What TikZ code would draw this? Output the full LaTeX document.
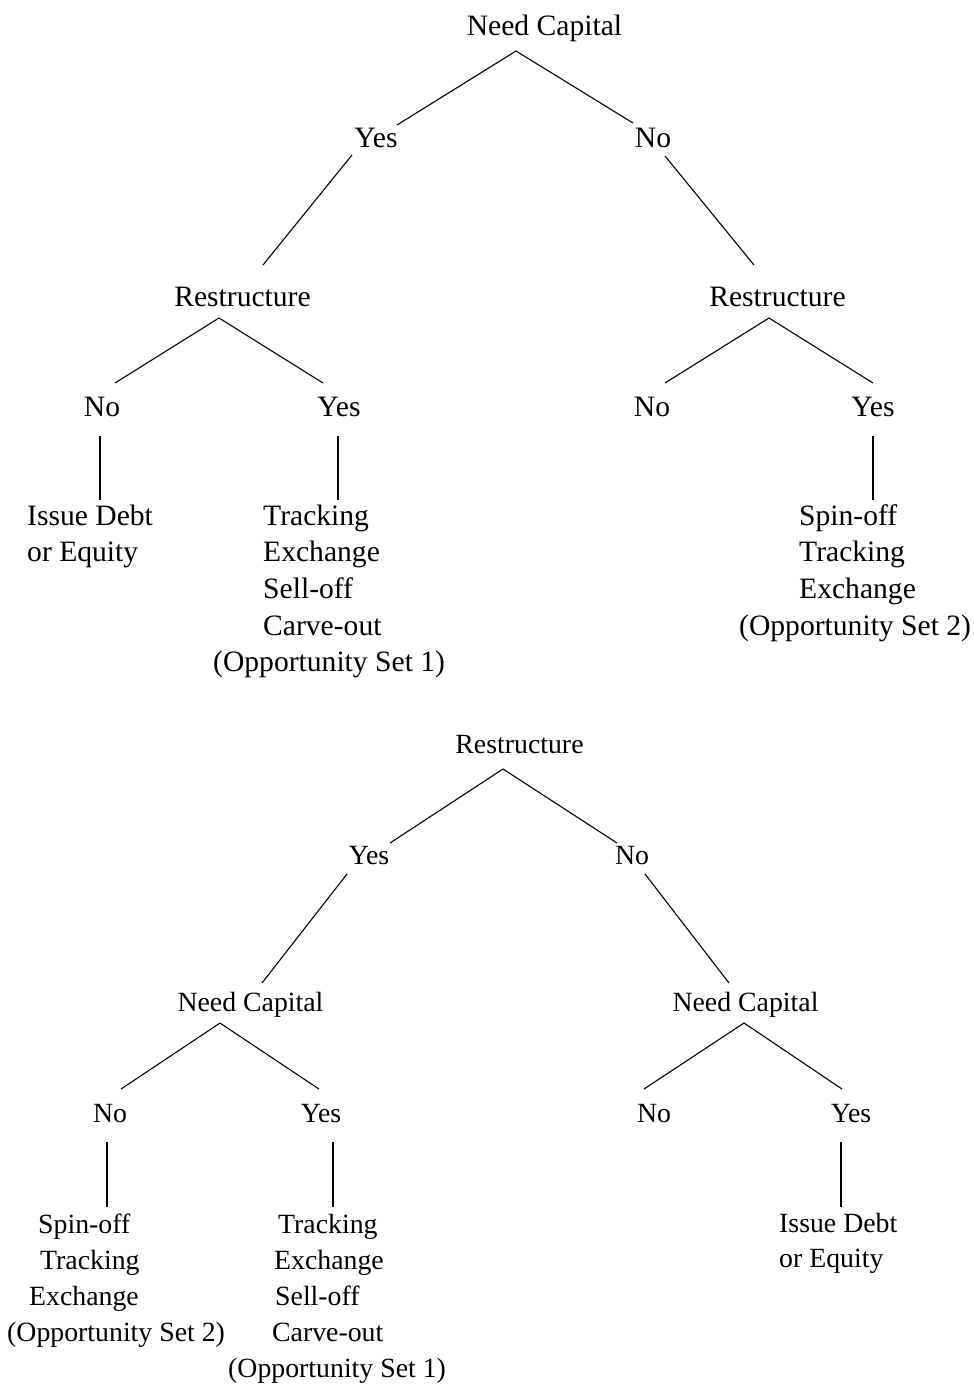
\documentclass[tikz,border=0pt]{standalone}
\usepackage{fontspec}
\setmainfont{Liberation Serif}
\newcommand{\topsz}{\fontsize{29.6}{36.7}\selectfont}
\newcommand{\botsz}{\fontsize{27.8}{36.2}\selectfont}
\begin{document}
\begin{tikzpicture}[x=1pt,y=-1pt,
  lbl/.style={inner sep=0pt, anchor=base},
  toplbl/.style={lbl, font=\topsz},
  botlbl/.style={lbl, font=\botsz},
  leaf/.style={inner sep=0pt, anchor=base west},
  edge/.style={draw=black, line width=1.1pt}]
\useasboundingbox (0,0) rectangle (974,1389);

% ---------- top tree ----------
\node[toplbl] (tnc) at (544.5,36) {Need Capital};
\node[toplbl] (tyes) at (376,147) {Yes};
\node[toplbl] (tno) at (653,147) {No};
\node[toplbl] (trl) at (242.5,306) {Restructure};
\node[toplbl] (trr) at (777.5,306) {Restructure};
\node[toplbl] (trlno) at (102,416) {No};
\node[toplbl] (trlyes) at (339,416) {Yes};
\node[toplbl] (trrno) at (652,416) {No};
\node[toplbl] (trryes) at (873,416) {Yes};
\node[leaf, font=\topsz] (tleaf1) at (27,525)
  {\begin{tabular}[t]{@{}l@{}}Issue Debt\\or Equity\end{tabular}};
\node[leaf, font=\topsz] (tleaf2) at (213,525)
  {\begin{tabular}[t]{@{}l@{}}\hspace*{50pt}Tracking\\\hspace*{50pt}Exchange\\\hspace*{50pt}Sell-off\\\hspace*{50pt}Carve-out\\(Opportunity Set 1)\end{tabular}};
\node[leaf, font=\topsz] (tleaf3) at (739,525)
  {\begin{tabular}[t]{@{}l@{}}\hspace*{60pt}Spin-off\\\hspace*{60pt}Tracking\\\hspace*{60pt}Exchange\\(Opportunity Set 2)\end{tabular}};

\coordinate (ta0) at (516,51);
\coordinate (ta1) at (397,125);
\coordinate (ta2) at (633,123);
\coordinate (tb1) at (352,155);
\coordinate (tb2) at (263,265);
\coordinate (tc1) at (665,156);
\coordinate (tc2) at (754,265);
\coordinate (td0) at (219,318);
\coordinate (td1) at (115,383);
\coordinate (td2) at (323,383);
\coordinate (te0) at (769,318);
\coordinate (te1) at (665,383);
\coordinate (te2) at (873,383);
\coordinate (tf1) at (100,436);
\coordinate (tf2) at (100,500);
\coordinate (tg1) at (338,436);
\coordinate (tg2) at (338,500);
\coordinate (th1) at (873,436);
\coordinate (th2) at (873,500);

\draw[edge] (ta1) -- (ta0) -- (ta2);
\draw[edge] (tb1) -- (tb2);
\draw[edge] (tc1) -- (tc2);
\draw[edge] (td1) -- (td0) -- (td2);
\draw[edge] (te1) -- (te0) -- (te2);
\draw[edge] (tf1) -- (tf2);
\draw[edge] (tg1) -- (tg2);
\draw[edge] (th1) -- (th2);

% ---------- bottom tree ----------
\node[botlbl] (br) at (519.5,753) {Restructure};
\node[botlbl] (byes) at (369,864) {Yes};
\node[botlbl] (bno) at (632,864) {No};
\node[botlbl] (bncl) at (250.5,1011) {Need Capital};
\node[botlbl] (bncr) at (745.5,1011) {Need Capital};
\node[botlbl] (blno) at (110,1122) {No};
\node[botlbl] (blyes) at (321,1122) {Yes};
\node[botlbl] (brno) at (654,1122) {No};
\node[botlbl] (bryes) at (851,1122) {Yes};
\node[leaf, font=\botsz] (bleaf1) at (7,1233)
  {\begin{tabular}[t]{@{}l@{}}\hspace*{31pt}Spin-off\\\hspace*{33pt}Tracking\\\hspace*{22pt}Exchange\\(Opportunity Set 2)\end{tabular}};
\node[leaf, font=\botsz] (bleaf2) at (228,1233)
  {\begin{tabular}[t]{@{}l@{}}\hspace*{50pt}Tracking\\\hspace*{46pt}Exchange\\\hspace*{47pt}Sell-off\\\hspace*{44pt}Carve-out\\(Opportunity Set 1)\end{tabular}};
\node[leaf, font=\fontsize{27.8}{35}\selectfont] (bleaf3) at (779,1232)
  {\begin{tabular}[t]{@{}l@{}}Issue Debt\\or Equity\end{tabular}};

\coordinate (ba0) at (503,769);
\coordinate (ba1) at (390,843);
\coordinate (ba2) at (617,843);
\coordinate (bb1) at (347,874);
\coordinate (bb2) at (262,983);
\coordinate (bc1) at (645,874);
\coordinate (bc2) at (729,983);
\coordinate (bd0) at (220,1023);
\coordinate (bd1) at (121,1089);
\coordinate (bd2) at (319,1089);
\coordinate (be0) at (744,1023);
\coordinate (be1) at (644,1089);
\coordinate (be2) at (842,1089);
\coordinate (bf1) at (107,1142);
\coordinate (bf2) at (107,1207);
\coordinate (bg1) at (333,1142);
\coordinate (bg2) at (333,1207);
\coordinate (bh1) at (841,1142);
\coordinate (bh2) at (841,1207);

\draw[edge] (ba1) -- (ba0) -- (ba2);
\draw[edge] (bb1) -- (bb2);
\draw[edge] (bc1) -- (bc2);
\draw[edge] (bd1) -- (bd0) -- (bd2);
\draw[edge] (be1) -- (be0) -- (be2);
\draw[edge] (bf1) -- (bf2);
\draw[edge] (bg1) -- (bg2);
\draw[edge] (bh1) -- (bh2);
\end{tikzpicture}
\end{document}
